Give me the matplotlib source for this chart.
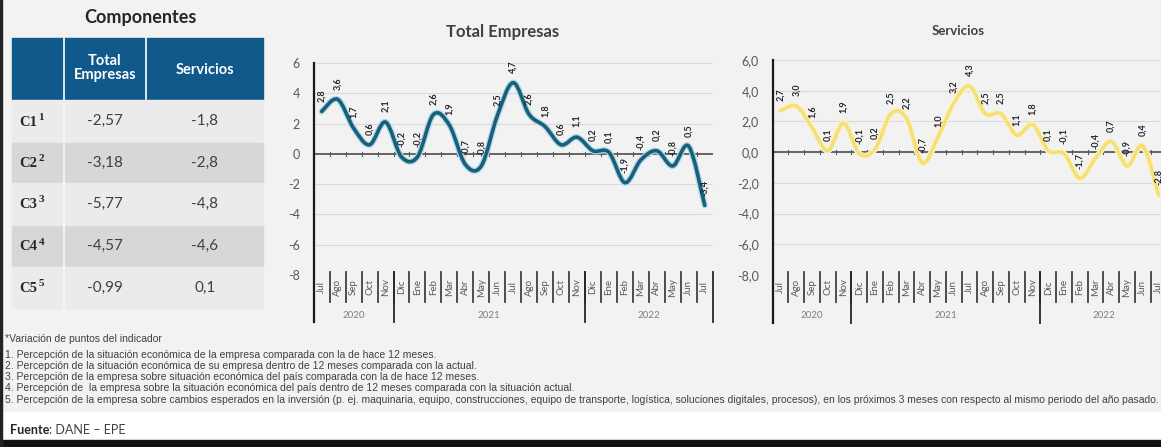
import numpy as np
import matplotlib
matplotlib.use('Agg')
import matplotlib.pyplot as plt
import matplotlib.patheffects as pe
from matplotlib.patches import Rectangle, PathPatch
from matplotlib.path import Path

plt.rcParams['font.family'] = ['Lato', 'DejaVu Sans']

# ---- datos ----
meses = ['Jul', 'Ago', 'Sep', 'Oct', 'Nov', 'Dic', 'Ene', 'Feb', 'Mar', 'Abr', 'May', 'Jun',
         'Jul', 'Ago', 'Sep', 'Oct', 'Nov', 'Dic', 'Ene', 'Feb', 'Mar', 'Abr', 'May', 'Jun', 'Jul']
anios = ['2020', '2021', '2022']
anio_inicio = [0, 5, 17]          # primer mes de cada año

total_empresas = [2.8, 3.6, 1.7, 0.6, 2.1, -0.2, -0.2, 2.6, 1.9, -0.7, -0.8, 2.5, 4.7,
                  2.6, 1.8, 0.6, 1.1, 0.2, 0.1, -1.9, -0.4, 0.2, -0.8, 0.5, -3.4]
servicios = [2.7, 3.0, 1.6, 0.1, 1.9, -0.1, 0.2, 2.5, 2.2, -0.7, 1.0, 3.2, 4.3,
             2.5, 2.5, 1.1, 1.8, 0.1, -0.1, -1.7, -0.4, 0.7, -0.9, 0.4, -2.8]

componentes = ['C1', 'C2', 'C3', 'C4', 'C5']
superindices = ['1', '2', '3', '4', '5']
tabla_total = ['-2,57', '-3,18', '-5,77', '-4,57', '-0,99']
tabla_servicios = ['-1,8', '-2,8', '-4,8', '-4,6', '0,1']

notas = [
    '*Variación de puntos del indicador',
    '1. Percepción de la situación económica de la empresa comparada con la de hace 12 meses.',
    '2. Percepción de la situación económica de su empresa dentro de 12 meses comparada con la actual.',
    '3. Percepción de la empresa sobre situación económica del país comparada con la de hace 12 meses.',
    '4. Percepción de  la empresa sobre la situación económica del país dentro de 12 meses comparada con la situación actual.',
    '5. Percepción de la empresa sobre cambios esperados en la inversión (p. ej. maquinaria, equipo, construcciones, equipo de transporte, logística, soluciones digitales, procesos), en los próximos 3 meses con respecto al mismo periodo del año pasado.',
]

W, H = 1161, 447
GRIS_TXT = '#595959'


def smooth_path(xs, ys):
    """Curva suavizada (Catmull-Rom -> Bezier) como la de Excel."""
    pts = np.column_stack([xs, ys]).astype(float)
    ext = np.vstack([pts[0], pts, pts[-1]])
    verts = [pts[0]]
    codes = [Path.MOVETO]
    for i in range(len(pts) - 1):
        p0, p1, p2, p3 = ext[i], ext[i + 1], ext[i + 2], ext[i + 3]
        verts += [p1 + (p2 - p0) / 6, p2 - (p3 - p1) / 6, p2]
        codes += [Path.CURVE4] * 3
    return Path(verts, codes)


def draw_chart(ax, values, color, halo, fmt):
    n = len(values)
    x = np.arange(n)
    ax.set_xlim(-0.5, n - 0.5)
    ax.set_ylim(-8, 6)
    ax.patch.set_visible(False)
    for s in ax.spines.values():
        s.set_visible(False)

    for y in range(-8, 7, 2):
        if y != 0:
            ax.axhline(y, color='#dadada', lw=0.8, zorder=1)
    ax.axhline(0, color='#595959', lw=1.3, zorder=2)
    for b in np.arange(0.5, n - 0.5):
        ax.plot([b, b], [-0.15, 0.15], color='#595959', lw=0.8, zorder=2)

    patch = PathPatch(smooth_path(x, values), fill=False, ec=color, lw=2.6, zorder=4,
                      capstyle='round', joinstyle='round',
                      path_effects=[pe.withStroke(linewidth=4.4, foreground=halo)])
    ax.add_patch(patch)

    for xi, v in zip(x, values):
        txt = f'{v:.1f}'.replace('.', ',')
        ax.annotate(txt, (xi, v), xytext=(0, 7), textcoords='offset points',
                    rotation=90, ha='center', va='bottom', fontsize=6.5,
                    color='#262626', fontweight='bold', zorder=5, annotation_clip=False)

    ax.set_xticks([])
    ticks = list(range(6, -9, -2))
    ax.set_yticks(ticks)
    ax.set_yticklabels([fmt(t) for t in ticks], fontsize=9, color=GRIS_TXT)
    ax.tick_params(axis='y', length=0, pad=10)

    # etiquetas de meses y años debajo del eje
    tr = ax.get_xaxis_transform()
    for i, m in enumerate(meses):
        ax.text(i, -0.057, m, transform=tr, rotation=90, ha='center', va='center',
                fontsize=7, color=GRIS_TXT, clip_on=False)
    for b in np.arange(0.5, n - 0.5):
        ax.plot([b, b], [0.014, -0.127], transform=tr, color='#404040', lw=1.3, clip_on=False)
    ends = anio_inicio[1:] + [n]
    for a, s, e in zip(anios, anio_inicio, ends):
        ax.text((s + e - 1) / 2, -0.19, a, transform=tr, ha='center', va='center',
                fontsize=7, color='#7f7f7f', clip_on=False)
        ax.plot([e - 0.5, e - 0.5], [0.014, -0.222], transform=tr, color='#262626',
                lw=1.3, clip_on=False)
    ax.plot([-0.5, -0.5], [1.0, -0.222], transform=tr, color='#1a1a1a', lw=1.6,
            clip_on=False)


fig = plt.figure(figsize=(W / 100, H / 100), dpi=100)

# capa de fondo en coordenadas de pixel
bg = fig.add_axes([0, 0, 1, 1])
bg.set_xlim(0, W)
bg.set_ylim(H, 0)
bg.axis('off')
bg.add_patch(Rectangle((0, 0), W, 412, color='#f2f2f2', zorder=0))
bg.add_patch(Rectangle((0, 412), W, 28, color='white', zorder=0))
bg.add_patch(Rectangle((0, 440), W, 7, color='#111111', zorder=0))
bg.add_patch(Rectangle((0, 0), 2, H, color='#222222', zorder=0))

# tabla de componentes
bg.text(140, 17, 'Componentes', ha='center', va='center', fontsize=13,
        fontweight='bold', color='#262626')
bg.add_patch(Rectangle((12, 38), 251, 61, color='#10598a', zorder=1))
bg.plot([64, 64], [38, 99], color='white', lw=1.2, zorder=2)
bg.plot([146, 146], [38, 99], color='white', lw=1.2, zorder=2)
bg.text(105, 68, 'Total\nEmpresas', ha='center', va='center', fontsize=10.5,
        fontweight='bold', color='white', linespacing=0.95, zorder=3)
bg.text(205, 70, 'Servicios', ha='center', va='center', fontsize=10.5,
        fontweight='bold', color='white', zorder=3)

filas_y = [(100, 142), (143, 182), (183, 224), (226, 266), (267, 308)]
filas_color = ['#ebebeb', '#d7d7d7', '#ebebeb', '#d7d7d7', '#ebebeb']
for (y0, y1), c, comp, sup, vt, vs in zip(filas_y, filas_color, componentes,
                                          superindices, tabla_total, tabla_servicios):
    bg.add_patch(Rectangle((12, y0), 251, y1 - y0, color=c, zorder=1))
    yc = (y0 + y1) / 2
    etiqueta = bg.text(19, yc + 1, comp, ha='left', va='center', fontsize=10.5,
                       fontweight='bold', color='#262626',
                       family=['Liberation Serif', 'DejaVu Serif'], zorder=3)
    bg.annotate(sup, xy=(1, 0.85), xycoords=etiqueta, xytext=(1, 0),
                textcoords='offset points', ha='left', va='center', fontsize=8,
                fontweight='bold', color='#262626',
                family=['Liberation Serif', 'DejaVu Serif'], zorder=3)
    bg.text(105, yc, vt, ha='center', va='center', fontsize=11, color='#404040', zorder=3)
    bg.text(205, yc, vs, ha='center', va='center', fontsize=11, color='#404040', zorder=3)
bg.plot([64, 64], [100, 308], color='#f7f7f7', lw=1.2, zorder=2)

# títulos de los gráficos
bg.text(503, 32, 'Total Empresas', ha='center', va='center', fontsize=12,
        fontweight='bold', color='#404040')
bg.text(958, 31, 'Servicios', ha='center', va='center', fontsize=9.5,
        fontweight='bold', color='#404040')

# notas al pie
notas_y = [339, 355, 366, 377, 388, 400]
for ny, nt in zip(notas_y, notas):
    bg.text(5, ny, nt, ha='left', va='center', fontsize=7.5, color='#404040',
            family=['Liberation Sans Narrow', 'Liberation Sans', 'DejaVu Sans'])
fuente = bg.text(10, 430, 'Fuente', ha='left', va='center', fontsize=9,
                 fontweight='bold', color='#262626')
bg.annotate(': DANE – EPE', xy=(1, 0.5), xycoords=fuente, ha='left', va='center',
            fontsize=9, color='#404040')

# gráficos de líneas
ax1 = fig.add_axes([313.7 / W, 1 - 275 / H, 399 / W, 212 / H])
draw_chart(ax1, total_empresas, '#1c5e78', '#a9d9ea', lambda t: f'{t:d}')

ax2 = fig.add_axes([772.7 / W, 1 - 275 / H, 393.75 / W, 215 / H])
draw_chart(ax2, servicios, '#f3e07a', '#fbf4c8',
           lambda t: f'{t:.1f}'.replace('.', ','))

fig.savefig('out.png', dpi=100, facecolor='white')
